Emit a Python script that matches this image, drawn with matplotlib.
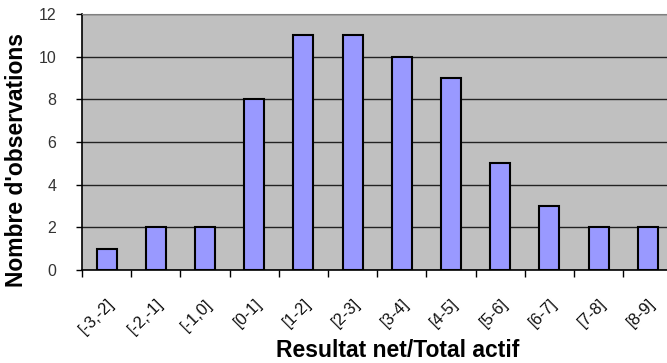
import numpy as np
import matplotlib.pyplot as plt
from matplotlib.transforms import ScaledTranslation

plt.rcParams['font.family'] = ['Liberation Sans', 'DejaVu Sans']

# Classes du ratio et effectifs
classes = ['[-3,-2]', '[-2,-1]', '[-1,0]', '[0-1]', '[1-2]', '[2-3]',
           '[3-4]', '[4-5]', '[5-6]', '[6-7]', '[7-8]', '[8-9]']
effectifs = [1, 2, 2, 8, 11, 11, 10, 9, 5, 3, 2, 2]

fig = plt.figure(figsize=(6.67, 3.63), dpi=100)
ax = fig.add_axes([82 / 667, 1 - 270 / 363, 1 - 82 / 667, 256 / 363])
ax.set_facecolor('#C0C0C0')

x = np.arange(len(classes))
ax.bar(x, effectifs, width=0.41, color='#9999FF', edgecolor='black', linewidth=1.5, zorder=3)

ax.set_ylim(0, 12)
ax.set_yticks(range(0, 13, 2))
ax.set_xlim(-0.5, 11.39)
ax.set_xticks(np.arange(-0.5, 11.5, 1))
ax.set_xticklabels([])
ax.set_xticks(x, minor=True)
ax.set_xticklabels(classes, minor=True, rotation=45, ha='right', va='top',
                   rotation_mode='anchor', fontsize=12, color='#111111')
decalage = ScaledTranslation(8 / 100, 0, fig.dpi_scale_trans)
for lab in ax.get_xticklabels(minor=True):
    lab.set_transform(lab.get_transform() + decalage)
ax.tick_params(axis='x', which='minor', length=0, pad=19)
ax.tick_params(axis='x', which='major', length=5, width=1, direction='out')
ax.tick_params(axis='y', length=4.5, width=1, direction='out', labelsize=11.5, pad=14,
               labelcolor='#333333')

ax.grid(axis='y', color='#222222', linewidth=1, zorder=1)
ax.spines['top'].set_color('#808080')
ax.spines['right'].set_visible(False)
ax.spines['left'].set_linewidth(1.2)
ax.spines['bottom'].set_linewidth(1.2)

ax.set_ylabel("Nombre d'observations", fontsize=16.5, fontweight='bold')
ax.yaxis.set_label_coords(-0.092, 0.43)
ax.set_xlabel('Resultat net/Total actif', fontsize=16.5, fontweight='bold')
ax.xaxis.set_label_coords(0.54, -0.27)

plt.savefig('out.png', dpi=100)
